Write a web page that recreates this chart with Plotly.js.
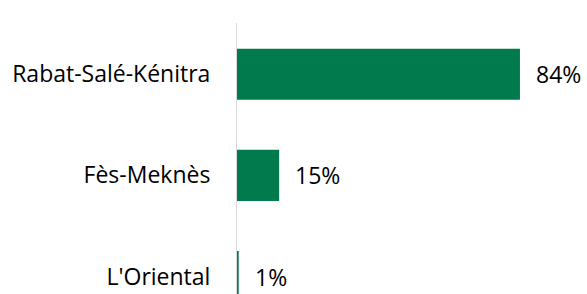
<!DOCTYPE html>
<html>
<head>
<meta charset="utf-8">
<script src="https://cdn.plot.ly/plotly-3.0.1.min.js"></script>
<style>html,body{margin:0;padding:0;background:#fff;}#chart{width:587px;height:294px;}</style>
</head>
<body>
<div id="chart"></div>
<script>
var regions = ["Rabat-Salé-Kénitra", "Fès-Meknès", "L'Oriental"];
var barValues = [84, 12.5, 0.5];
var valueLabels = ["84%", "15%", "1%"];

var font = {family: "'Open Sans', sans-serif", size: 23, color: "#000"};

var trace = {
  type: "bar",
  orientation: "h",
  y: regions,
  x: barValues,
  width: 0.505,
  marker: {color: "#017a4e"},
  hoverinfo: "none"
};

var annotations = regions.map(function (r, i) {
  return {
    x: barValues[i], y: r, xref: "x", yref: "y",
    text: valueLabels[i], showarrow: false,
    xanchor: "left", yanchor: "middle", xshift: 14,
    font: font
  };
});

var layout = {
  width: 587, height: 294,
  margin: {l: 237, r: 0, t: 23, b: 0, pad: 0},
  paper_bgcolor: "#fff", plot_bgcolor: "#fff",
  showlegend: false,
  xaxis: {range: [0, 103.9], visible: false, fixedrange: true},
  yaxis: {
    type: "category",
    range: [2.172, -0.506],
    showline: true, linecolor: "#d9d9d9", linewidth: 1,
    showgrid: false, zeroline: false,
    ticks: "", ticklabelstandoff: 21,
    tickfont: font, fixedrange: true
  },
  annotations: annotations
};

Plotly.newPlot("chart", [trace], layout, {displayModeBar: false, staticPlot: true});
</script>
</body>
</html>
